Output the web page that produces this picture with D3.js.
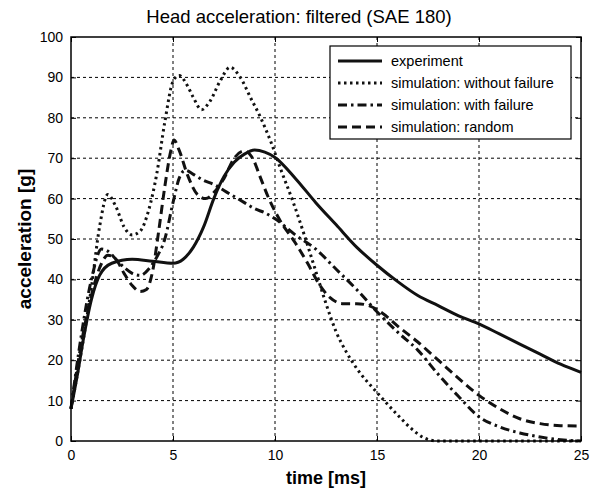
<!DOCTYPE html>
<html>
<head>
<meta charset="utf-8">
<script src="https://cdn.jsdelivr.net/npm/d3@7"></script>
<style>
  body { margin: 0; background: #fff; }
  svg { font-family: "Liberation Sans", Arial, sans-serif; }
</style>
</head>
<body>
<div id="chart"></div>
<script>
// time axis [ms] and the four curves
var expT = [0, 0.3, 0.6, 1.0, 1.4, 2, 3, 4, 5, 5.5, 6, 6.5, 7, 7.5, 8, 8.5, 9, 9.5, 10, 11, 12, 13, 14, 15, 16, 17, 18, 19, 20, 21, 22, 23, 24, 25];
var expV = [8, 16, 25, 35, 41, 44, 45, 44.5, 44, 45, 48, 53, 60, 65.5, 69, 71, 72, 71.5, 70.2, 65, 59, 53.5, 48, 43.5, 39.5, 36, 33.5, 31, 29, 26.5, 24, 21.5, 19, 17];

var noFailT = [0, 0.5, 1.0, 1.4, 1.8, 2.2, 2.6, 3.0, 3.4, 3.8, 4.2, 4.6, 5.0, 5.3, 5.7, 6.0, 6.4, 6.8, 7.3, 7.8, 8.3, 8.8, 9.3, 9.8, 10.3, 10.9, 11.5, 12.0, 12.5, 13.0, 13.5, 14, 15, 16, 16.7, 17.3, 18, 20, 25];
var noFailV = [8, 22, 38, 53, 61, 58, 53, 51, 52, 57, 66, 79, 89, 90.5, 88, 85, 82, 84, 89, 92.5, 90, 85, 80, 74, 67, 59, 50, 42, 34, 27, 22, 18, 12, 6.5, 3, 0.8, 0, 0, 0];

var failT = [0, 0.5, 1.0, 1.5, 1.8, 2.2, 2.6, 3.0, 3.4, 3.8, 4.2, 4.6, 5.0, 5.3, 5.6, 6.0, 6.5, 7.0, 7.5, 8.0, 8.5, 9.0, 9.5, 10, 11, 12, 13, 14, 15, 16, 17, 18, 19, 20, 21, 22, 23, 24, 25];
var failV = [8, 26, 40, 47.5, 47, 45, 43, 41.5, 41, 42.5, 45.5, 50, 59, 65, 67, 66, 64.5, 63.5, 62, 60.5, 59, 57.5, 56.5, 55, 51, 47.5, 42.5, 37.5, 32, 27, 22.5, 16.5, 11, 6, 3.5, 2, 1, 0.3, 0];

var randT = [0, 0.5, 1, 1.5, 1.8, 2.2, 2.6, 3.0, 3.4, 3.7, 4.0, 4.3, 4.6, 4.9, 5.05, 5.3, 5.7, 6.2, 6.6, 7.0, 7.5, 8.0, 8.5, 8.9, 9.3, 9.7, 10.2, 11, 11.6, 12.2, 12.7, 13.3, 14, 14.6, 15.3, 16, 17, 18, 19, 20, 21, 22, 23, 24, 25];
var randV = [8, 24, 36, 44, 46, 45, 41.5, 38.5, 37, 37.5, 42, 52, 63, 72, 74.5, 72, 66, 61, 60, 61.5, 65, 70, 71.8, 70, 65, 60, 55, 49, 44, 38.5, 35.5, 34, 34, 33.5, 31.5, 28.5, 24.5, 20, 15.5, 11.3, 8, 5.5, 4.3, 3.8, 3.7];

var seriesNames = ["experiment", "simulation: without failure", "simulation: with failure", "simulation: random"];
var xTicks = [0, 5, 10, 15, 20, 25];
var yTicks = [0, 10, 20, 30, 40, 50, 60, 70, 80, 90, 100];

var svgWidth = 598;
var svgHeight = 492;
var margin = { top: 37, right: 17, bottom: 51, left: 71 };
var width = svgWidth - margin.left - margin.right;
var height = svgHeight - margin.top - margin.bottom;

var svg = d3.select("#chart")
  .append("svg")
  .attr("width", svgWidth)
  .attr("height", svgHeight);

var chartGroup = svg.append("g")
  .attr("transform", `translate(${margin.left}, ${margin.top})`);

var xScale = d3.scaleLinear().domain([0, 25]).range([0, width]);
var yScale = d3.scaleLinear().domain([0, 100]).range([height, 0]);

// grid lines
chartGroup.append("g")
  .selectAll("line")
  .data(xTicks.slice(1, -1))
  .enter()
  .append("line")
  .attr("x1", d => xScale(d)).attr("x2", d => xScale(d))
  .attr("y1", 0).attr("y2", height)
  .attr("stroke", "#000").attr("stroke-width", 1)
  .attr("stroke-dasharray", "3,3");

chartGroup.append("g")
  .selectAll("line")
  .data(yTicks.slice(1, -1))
  .enter()
  .append("line")
  .attr("x1", 0).attr("x2", width)
  .attr("y1", d => yScale(d)).attr("y2", d => yScale(d))
  .attr("stroke", "#000").attr("stroke-width", 1)
  .attr("stroke-dasharray", "3,3");

// axes, ticks pointing inward on all four sides
var bottomAxis = d3.axisBottom(xScale).tickValues(xTicks).tickSizeInner(-5).tickSizeOuter(0).tickPadding(9);
var leftAxis = d3.axisLeft(yScale).tickValues(yTicks).tickSizeInner(-5).tickSizeOuter(0).tickPadding(8);
var topAxis = d3.axisTop(xScale).tickValues(xTicks).tickSizeInner(-5).tickSizeOuter(0).tickFormat("");
var rightAxis = d3.axisRight(yScale).tickValues(yTicks).tickSizeInner(-5).tickSizeOuter(0).tickFormat("");

var xAxis = chartGroup.append("g")
  .attr("transform", `translate(0,${height})`)
  .call(bottomAxis);
var yAxis = chartGroup.append("g").call(leftAxis);
var xAxisTop = chartGroup.append("g").call(topAxis);
var yAxisRight = chartGroup.append("g")
  .attr("transform", `translate(${width},0)`)
  .call(rightAxis);

[xAxis, yAxis, xAxisTop, yAxisRight].forEach(function(ax) {
  ax.selectAll("text").attr("font-size", "14px").attr("fill", "#000")
    .attr("font-family", "Liberation Sans, Arial, sans-serif");
  ax.selectAll("line").attr("stroke", "#000");
  ax.select(".domain").remove();
});

// curves
var line = d3.line()
  .x(d => xScale(d[0]))
  .y(d => yScale(d[1]))
  .curve(d3.curveMonotoneX);

var series = [
  { t: expT, v: expV, dash: null },
  { t: noFailT, v: noFailV, dash: "2.5,3.5" },
  { t: failT, v: failV, dash: "9,4,2.5,4" },
  { t: randT, v: randV, dash: "9,5" }
];

series.forEach(function(s) {
  chartGroup.append("path")
    .datum(d3.zip(s.t, s.v))
    .attr("d", line)
    .attr("fill", "none")
    .attr("stroke", "#111")
    .attr("stroke-width", 3)
    .attr("stroke-dasharray", s.dash);
});

// box
chartGroup.append("rect")
  .attr("x", 0).attr("y", 0)
  .attr("width", width).attr("height", height)
  .attr("fill", "none").attr("stroke", "#000").attr("stroke-width", 1.5);

// legend
var legend = chartGroup.append("g")
  .attr("transform", `translate(${330 - margin.left}, ${46 - margin.top})`);

legend.append("rect")
  .attr("width", 241).attr("height", 93)
  .attr("fill", "#fff").attr("stroke", "#000").attr("stroke-width", 1.2);

legend.selectAll("line")
  .data(series)
  .enter()
  .append("line")
  .attr("x1", 8).attr("x2", 52)
  .attr("y1", (d, i) => 15 + i * 22).attr("y2", (d, i) => 15 + i * 22)
  .attr("stroke", "#111").attr("stroke-width", 3)
  .attr("stroke-dasharray", d => d.dash);

legend.selectAll("text")
  .data(seriesNames)
  .enter()
  .append("text")
  .attr("x", 61)
  .attr("y", (d, i) => 15 + i * 22)
  .attr("dy", "0.35em")
  .attr("font-size", "14.5px")
  .text(d => d);

// title and axis labels
svg.append("text")
  .attr("x", 299)
  .attr("y", 23)
  .attr("text-anchor", "middle")
  .attr("font-size", "18.5px")
  .text("Head acceleration: filtered (SAE 180)");

svg.append("text")
  .attr("x", margin.left + width / 2)
  .attr("y", 484)
  .attr("text-anchor", "middle")
  .attr("font-size", "18px")
  .attr("font-weight", "bold")
  .text("time [ms]");

svg.append("text")
  .attr("transform", `translate(31,${margin.top + height / 2}) rotate(-90)`)
  .attr("text-anchor", "middle")
  .attr("font-size", "19px")
  .attr("font-weight", "bold")
  .text("acceleration [g]");
</script>
</body>
</html>
